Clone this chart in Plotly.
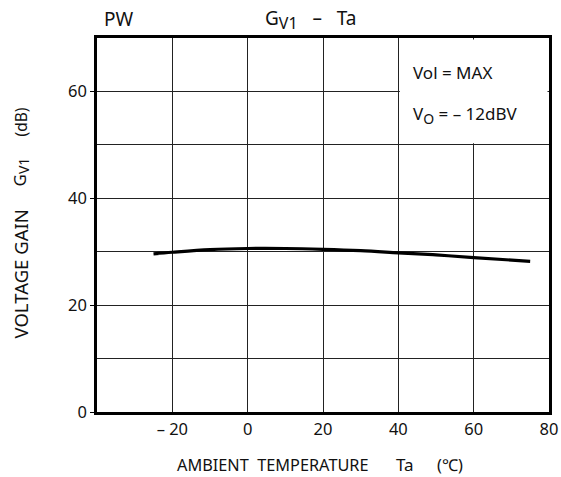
import plotly.graph_objects as go

# Voltage gain vs ambient temperature
temperature_c = [-25, -20, -10, 0, 10, 20, 30, 40, 50, 60, 75]
gain_db = [29.6, 29.9, 30.4, 30.6, 30.6, 30.45, 30.2, 29.8, 29.4, 28.9, 28.2]

x_tickvals = [-20, 0, 20, 40, 60, 80]
x_ticktext = ["\u2013 20", "0", "20", "40", "60", "80"]
y_tickvals = [0, 20, 40, 60]

FONT = "Noto Sans"
INK = "#111111"

# plot area in pixels
L, R, T, B = 97, 12, 38, 65
W, H = 561, 477
PH = H - T - B
PWID = W - L - R


def px_to_paper_x(px):
    return (px - L) / PWID


def px_to_paper_y(py):
    return (H - B - py) / PH


def sub(text, size):
    """Subscript drawn at an explicit (larger than default) size."""
    return f"<sub><span style='font-size:{size}px'>{text}</span></sub>"


def text_at(text, px, py, size, xanchor="center", angle=0):
    return dict(text=text, xref="paper", yref="paper",
                x=px_to_paper_x(px), y=px_to_paper_y(py), textangle=angle,
                showarrow=False, xanchor=xanchor, yanchor="middle",
                font=dict(size=size))


fig = go.Figure()
fig.add_trace(go.Scatter(
    x=temperature_c, y=gain_db, mode="lines",
    line=dict(color="black", width=3.2, shape="spline", smoothing=1.0),
    showlegend=False, hoverinfo="skip",
))

fig.update_layout(
    width=W, height=H,
    margin=dict(l=L, r=R, t=T, b=B),
    paper_bgcolor="white", plot_bgcolor="white",
    font=dict(family=FONT, size=16, color=INK),
    xaxis=dict(
        range=[-40, 80], tickvals=x_tickvals, ticktext=x_ticktext,
        showgrid=True, gridcolor="#222222", gridwidth=1.3,
        showline=True, linecolor="black", linewidth=2.5, mirror=True,
        ticks="", zeroline=False, tickfont=dict(size=16.5), automargin=False,
    ),
    yaxis=dict(
        range=[0, 70], tickvals=y_tickvals,
        showgrid=True, gridcolor="#222222", gridwidth=1.3,
        minor=dict(tickvals=[10, 30, 50], showgrid=True, gridcolor="#222222", gridwidth=1.3),
        showline=True, linecolor="black", linewidth=2.5, mirror=True,
        ticks="outside", ticklen=4, tickwidth=1.3, tickcolor="black",
        zeroline=False, tickfont=dict(size=16.5), automargin=False,
    ),
    shapes=[
        # clear the gridlines behind the condition box
        dict(type="rect", xref="x", yref="y", x0=40.4, x1=79.6, y0=50.3, y1=69.7,
             fillcolor="white", line=dict(width=0), layer="between"),
    ],
    annotations=[
        text_at("PW", 102, 19, 19, xanchor="left"),
        text_at("G" + sub("V1", 16) + "   \u2013   Ta", 310, 19, 19),
        # x-axis title
        text_at("AMBIENT  TEMPERATURE", 272.5, 465, 16.3),
        text_at("Ta", 404.5, 465, 17),
        text_at("(\u2103)", 450, 465, 16.3),
        # y-axis title
        text_at("VOLTAGE GAIN", 20, 274.5, 18.5, angle=-90),
        text_at("G" + sub("V1", 14), 20, 172.5, 17, angle=-90),
        text_at("(dB)", 20, 122.5, 15.5, angle=-90),
        # test conditions
        dict(text="Vol = MAX", xref="paper", yref="paper",
             x=px_to_paper_x(411), y=px_to_paper_y(72),
             showarrow=False, xanchor="left", yanchor="middle", font=dict(size=17)),
        dict(text="V" + sub("O", 14) + " = \u2013 12dBV", xref="paper", yref="paper",
             x=px_to_paper_x(411), y=px_to_paper_y(115),
             showarrow=False, xanchor="left", yanchor="middle", font=dict(size=17)),
    ],
)

fig.write_html("out.html")
